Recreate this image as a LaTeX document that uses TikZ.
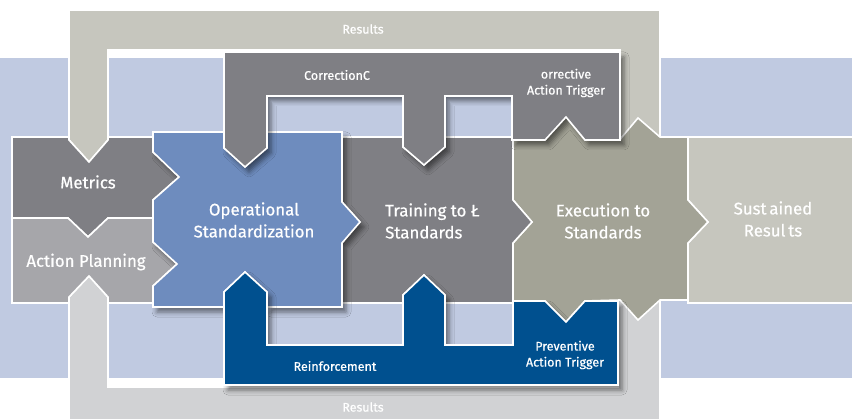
\documentclass[tikz,border=0pt]{standalone}
\usepackage{fontspec}
\setmainfont{Fira Sans}
\newfontfamily\labelfont{Fira Sans}[FakeBold=0.6]
\usepackage{tikz}
\usetikzlibrary{shadows.blur}
\definecolor{band}{HTML}{C0CAE1}
\definecolor{resulttop}{HTML}{C6C6BE}
\definecolor{resultbot}{HTML}{D1D2D4}
\definecolor{darkgray}{HTML}{7F7F84}
\definecolor{midgray}{HTML}{A6A6AA}
\definecolor{stdblue}{HTML}{6E8CBE}
\definecolor{olive}{HTML}{A3A396}
\definecolor{navy}{HTML}{00508F}
\tikzstyle{piece} = [draw=white, line width=1.6pt, line join=miter]
\tikzstyle{shade} = [blur shadow={shadow xshift=4pt, shadow yshift=-5pt, shadow blur radius=5pt, shadow opacity=50}]
\tikzstyle{big} = [text=white, align=center, inner sep=0, font=\labelfont\fontsize{16.8}{22}\selectfont]
\tikzstyle{small} = [text=white, align=center, inner sep=0, font=\labelfont\fontsize{12.5}{16}\selectfont]

\begin{document}
\begin{tikzpicture}[x=1pt, y=-1pt]
\useasboundingbox (0,0) rectangle (852,419);
\fill [band] (0,58) rectangle (852,378);
% results loops, top and bottom
\filldraw [piece, fill=resulttop] (69,10) -- (660,10) -- (660,137) -- (620,137) -- (620,50) -- (108,50) -- (108,140) -- (89,162) -- (69,140) -- cycle;
\filldraw [piece, fill=resultbot] (69,425) -- (660,425) -- (660,300) -- (618,300) -- (618,387) -- (108,387) -- (108,297) -- (89,276) -- (69,297) -- cycle;
% left column
\filldraw [piece, fill=darkgray] (12,137) -- (69,137) -- (69,140) -- (89,162) -- (108,140) -- (108,137) -- (153,137) -- (153,152) -- (179,177) -- (153,200) -- (153,218) -- (108,218) -- (88,237) -- (68,218) -- (12,218) -- cycle;
\filldraw [piece, fill=midgray] (12,218) -- (68,218) -- (88,237) -- (108,218) -- (153,218) -- (153,242) -- (177,264) -- (153,286) -- (153,303) -- (108,303) -- (108,297) -- (89,276) -- (69,297) -- (69,303) -- (12,303) -- cycle;
% right end
\filldraw [piece, fill=resulttop] (688,137) -- (860,137) -- (860,303) -- (688,303) -- (688,243) -- (708,222) -- (688,200) -- cycle;
\filldraw [piece, fill=olive] (513,140) -- (545,140) -- (566,117) -- (585,140) -- (620,140) -- (622,137) -- (638,118) -- (660,137) -- (688,137) -- (688,200) -- (708,222) -- (688,243) -- (688,300) -- (660,300) -- (638,320) -- (620,300) -- (585,301) -- (566,322) -- (545,301) -- (513,301) -- (513,243) -- (532,222) -- (513,200) -- cycle;
\filldraw [piece, fill=darkgray] (342,137) -- (403,137) -- (403,147) -- (424,165) -- (445,147) -- (445,137) -- (513,137) -- (513,200) -- (532,222) -- (513,243) -- (513,303) -- (445,303) -- (445,295) -- (424,275) -- (403,295) -- (403,303) -- (342,303) -- (342,243) -- (360,222) -- (342,202) -- cycle;
\filldraw [piece, shade, fill=stdblue] (153,132) -- (224,132) -- (224,148) -- (245,167) -- (267,148) -- (267,132) -- (342,132) -- (342,202) -- (360,222) -- (342,243) -- (342,307) -- (267,307) -- (267,292) -- (245,272) -- (224,292) -- (224,307) -- (153,307) -- (153,286) -- (177,264) -- (153,242) -- (153,200) -- (179,177) -- (153,152) -- cycle;
% correction and reinforcement loops
\filldraw [piece, shade, fill=darkgray] (224,52) -- (620,52) -- (620,140) -- (585,140) -- (566,117) -- (545,140) -- (512,140) -- (512,96) -- (445,96) -- (445,147) -- (424,165) -- (403,147) -- (403,96) -- (267,96) -- (267,148) -- (245,167) -- (224,148) -- cycle;
\filldraw [piece, shade, fill=navy] (224,292) -- (245,272) -- (267,292) -- (267,345) -- (403,345) -- (403,295) -- (424,275) -- (445,295) -- (445,345) -- (513,345) -- (513,301) -- (545,301) -- (566,322) -- (585,301) -- (618,301) -- (618,385) -- (224,385) -- cycle;
% labels
\node [small] (restop) at (363,29) {Results};
\node [small] (resbot) at (363,407) {Results};
\node [small] (corr) at (337,75) {CorrectionC};
\node [small] (cat) at (566,83) {orrective\\Action Trigger};
\node [small] (reinf) at (335,366) {Reinforcement};
\node [small] (pat) at (565,355) {Preventive\\Action Trigger};
\node [big] (metrics) at (88,182) {Metrics};
\node [big] (plan) at (86,262) {Action Planning};
\node [big] (opstd) at (254,220) {Operational\\Standardization};
\node [big, align=left, anchor=west] (train) at (385,221) {Training to Ł\\Standards};
\node [big] (exec) at (603,221) {Execution to\\Standards};
\node [big] (sust) at (773,219) {Sust\,ained\\Resul\,ts};
\end{tikzpicture}
\end{document}
